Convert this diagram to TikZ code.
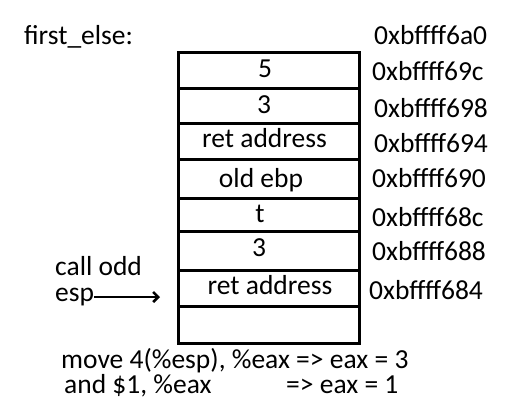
\documentclass[tikz,border=0pt]{standalone}
\usepackage{fontspec}
\setmainfont{Carlito}
\usetikzlibrary{arrows.meta}
\begin{document}
\begin{tikzpicture}[x=1pt,y=-1pt,
  every node/.style={font=\fontsize{27.5}{32}\selectfont, inner sep=0pt},
  cell/.style={draw, line width=3pt, minimum width=181pt, anchor=north west},
  lbl/.style={anchor=base},
  addr/.style={anchor=base west}]
\useasboundingbox (0,0) rectangle (510,402);
% stack cells
\node[cell, minimum height=36pt] (c1) at (177,51) {};
\node[cell, minimum height=35pt] (c2) at (177,87) {};
\node[cell, minimum height=36pt] (c3) at (177,122) {};
\node[cell, minimum height=39pt] (c4) at (177,158) {};
\node[cell, minimum height=33pt] (c5) at (177,197) {};
\node[cell, minimum height=39pt] (c6) at (177,230) {};
\node[cell, minimum height=36pt] (c7) at (177,269) {};
\node[cell, minimum height=37pt] (c8) at (177,305) {};
% cell labels
\node[lbl] (l1) at (265,77) {5};
\node[lbl] (l2) at (264,113) {3};
\node[lbl] (l3) at (264.5,147) {ret address};
\node[lbl] (l4) at (261,187) {old ebp};
\node[lbl] (l5) at (260,222) {t};
\node[lbl] (l6) at (259,256) {3};
\node[lbl] (l7) at (270,294) {ret address};
% addresses
\node[anchor=base west] (title) at (24,44) {first\_else:};
\node[addr] (a0) at (374,44) {0xbffff6a0};
\node[addr] (a1) at (372,80) {0xbffff69c};
\node[addr] (a2) at (374,117) {0xbffff698};
\node[addr] (a3) at (374,152) {0xbffff694};
\node[addr] (a4) at (372,187) {0xbffff690};
\node[addr] (a5) at (372,226) {0xbffff68c};
\node[addr] (a6) at (372,260) {0xbffff688};
\node[addr] (a7) at (369,299) {0xbffff684};
% esp pointer
\node[anchor=base west, text depth=0pt] (call) at (55,275) {call odd};
\node[anchor=base west, text height=12pt] (esp) at (55,301) {esp};
\coordinate (tip) at (160,297);
\draw[line width=2.6pt, -{Straight Barb[length=5pt,width=10pt]}] (esp.east |- tip) -- (tip);
% instructions
\node[anchor=base west] (i1) at (61,368) {move 4(\%esp), \%eax => eax = 3};
\node[anchor=base west] (i2) at (64,393) {and \$1, \%eax};
\node[anchor=base west] (i3) at (286,393) {=> eax = 1};
\end{tikzpicture}
\end{document}
